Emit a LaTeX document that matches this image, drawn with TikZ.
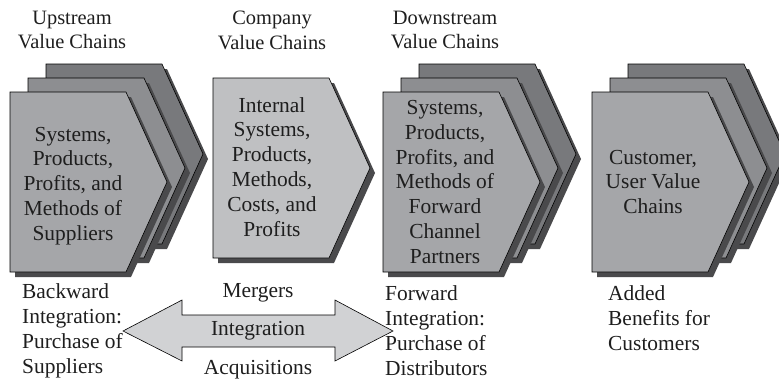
\documentclass[tikz,border=0pt]{standalone}
\usepackage{fontspec}
\setmainfont{Liberation Serif}
\usepackage{tikz}
\definecolor{backgray}{HTML}{78797C}
\definecolor{midgray}{HTML}{8D8E91}
\definecolor{frontgray}{HTML}{A5A6A9}
\definecolor{compgray}{HTML}{BFC0C2}
\definecolor{shadegray}{HTML}{4A4A4C}
\definecolor{arrowgray}{HTML}{D1D2D4}
\definecolor{inkgray}{HTML}{1E1E1E}

\begin{document}
\begin{tikzpicture}[x=1bp,y=-1bp,
  txt/.style={inner sep=0pt,text=inkgray,font=\fontsize{21.5}{25}\selectfont},
  headtext/.style={txt,align=center,font=\fontsize{20.5}{25}\selectfont},
  boxtext/.style={txt,align=center},
  sidetext/.style={txt,align=left,anchor=west},
  pics/chev/.style={code={
    \fill[shadegray] (5,5) -- (121,5) -- (162,95) -- (121,185) -- (5,185) -- cycle;
    \filldraw[fill=#1,draw=black,line width=0.6bp] (0,0) -- (116,0) -- (157,90) -- (116,180) -- (0,180) -- cycle;
  }}]
  \useasboundingbox (0,0) rectangle (779,382);

  % headings
  \node[headtext] (uphead) at (72,30) {Upstream\\Value Chains};
  \node[headtext] (comphead) at (272,30) {Company\\Value Chains};
  \node[headtext] (downhead) at (445,30) {Downstream\\Value Chains};

  % upstream stack
  \pic at (46,64) {chev=backgray};
  \pic at (28,78) {chev=midgray};
  \pic at (10,92) {chev=frontgray};
  \node[boxtext] (uptext) at (73,186) {Systems,\\Products,\\Profits, and\\Methods of\\Suppliers};

  % company
  \pic at (213,78) {chev=compgray};
  \node[boxtext] (comptext) at (272,167) {Internal\\Systems,\\Products,\\Methods,\\Costs, and\\Profits};

  % downstream stack
  \pic at (419,64) {chev=backgray};
  \pic at (401,78) {chev=midgray};
  \pic at (383,92) {chev=frontgray};
  \node[boxtext] (downtext) at (445,182) {Systems,\\Products,\\Profits, and\\Methods of\\Forward\\Channel\\Partners};

  % customer stack
  \pic at (628,64) {chev=backgray};
  \pic at (610,78) {chev=midgray};
  \pic at (592,92) {chev=frontgray};
  \node[boxtext] (custtext) at (653,182) {Customer,\\User Value\\Chains};

  % integration arrow
  \filldraw[fill=arrowgray,draw=black,line width=0.6bp]
    (123,331) -- (182,300) -- (182,315) -- (335,315) -- (335,300) -- (393,331)
    -- (335,361) -- (335,347) -- (182,347) -- (182,361) -- cycle;
  \node[txt] (merge) at (258,293) {Mergers};
  \node[txt] (integ) at (258,331) {Integration};
  \node[txt] (acqu) at (258,370) {Acquisitions};

  % bottom labels
  \node[sidetext] (backint) at (22,331) {Backward\\Integration:\\Purchase of\\Suppliers};
  \node[sidetext] (fwdint) at (385,331) {Forward\\Integration:\\Purchase of\\Distributors};
  \node[sidetext] (added) at (608,318) {Added\\Benefits for\\Customers};
\end{tikzpicture}
\end{document}
